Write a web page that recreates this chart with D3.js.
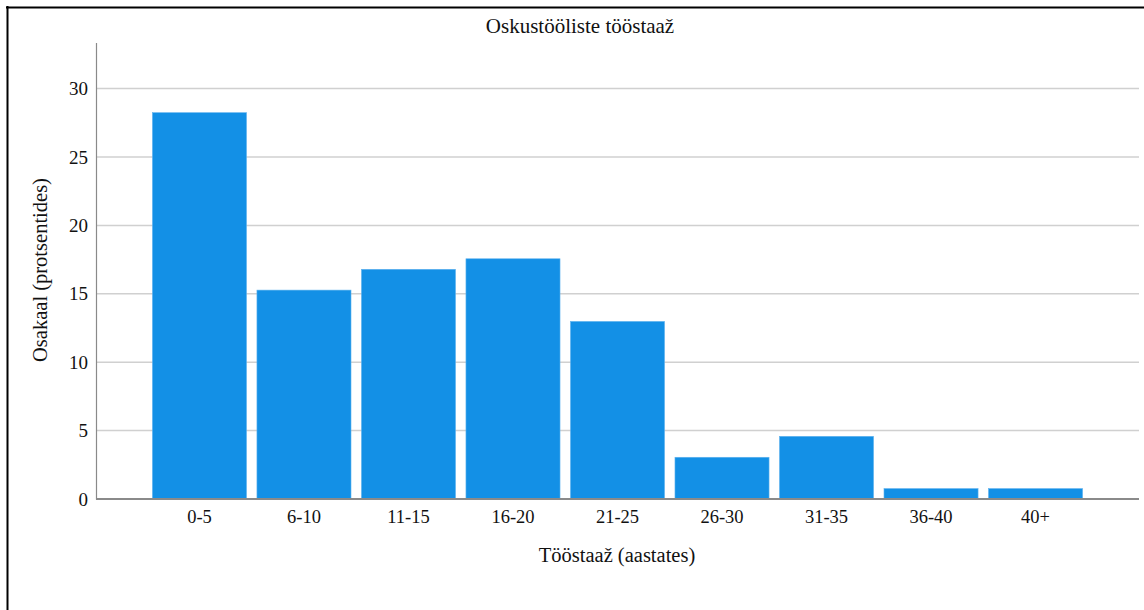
<!DOCTYPE html>
<html><head><meta charset="utf-8">
<script src="https://cdn.jsdelivr.net/npm/d3@7"></script>
<style>body{margin:0;background:#fff}svg{display:block}text{font-family:"Liberation Serif","Times New Roman",serif;fill:#111}</style>
</head><body><svg id="c" width="1144" height="610"></svg>
<script>
const categories = ["0-5","6-10","11-15","16-20","21-25","26-30","31-35","36-40","40+"];
const values = [28.24,15.27,16.79,17.56,12.98,3.05,4.58,0.76,0.76];
const yTicks = [0,5,10,15,20,25,30];
const title = "Oskustööliste tööstaaž";
const xTitle = "Tööstaaž (aastates)";
const yTitle = "Osakaal (protsentides)";

(function(){
const svg = d3.select("#c");
// frame
svg.append("line").attr("x1",7.5).attr("x2",7.5).attr("y1",6).attr("y2",610).attr("stroke","#000").attr("stroke-width",2);
svg.append("line").attr("x1",6).attr("x2",1144).attr("y1",7.5).attr("y2",7.5).attr("stroke","#000").attr("stroke-width",2);

const mL=96, mR=1139, mT=42.5, mB=499;
const x = d3.scaleBand().domain(categories).range([mL,mR]).paddingInner(0.1).paddingOuter(0.54);
const y = d3.scaleLinear().domain([0,33.37]).range([mB,mT]);

// grid
svg.append("g").selectAll("line").data(yTicks.filter(d=>d>0)).join("line")
  .attr("x1",mL).attr("x2",mR).attr("y1",d=>y(d)).attr("y2",d=>y(d))
  .attr("stroke","#d0d0d0").attr("stroke-width",1.5);

// bars
svg.append("g").selectAll("rect").data(values).join("rect")
  .attr("x",(d,i)=>x(categories[i])).attr("width",x.bandwidth())
  .attr("y",d=>y(d)).attr("height",d=>mB-y(d))
  .attr("fill","#1390e6").attr("stroke","#5fb2ee").attr("stroke-width",0.6);

// y axis
const ya = svg.append("g").attr("transform",`translate(${mL},0)`)
  .call(d3.axisLeft(y).tickValues(yTicks).tickSize(0).tickPadding(8));
ya.select(".domain").attr("stroke","#8a8a8a").attr("stroke-width",1.2);
ya.selectAll("text").attr("font-size",19).attr("font-family","Liberation Serif").attr("fill","#111");

// x axis
const xa = svg.append("g").attr("transform",`translate(0,${mB})`)
  .call(d3.axisBottom(x).tickSize(0).tickPadding(11));
xa.select(".domain").attr("d",`M${mL},0H${mR}`).attr("stroke","#8a8a8a").attr("stroke-width",2);
xa.selectAll("text").attr("font-size",18.5).attr("font-family","Liberation Serif").attr("fill","#111");

// titles
svg.append("text").attr("x",580).attr("y",33).attr("text-anchor","middle").attr("font-size",21).text(title);
svg.append("text").attr("x",617).attr("y",562).attr("text-anchor","middle").attr("font-size",20.5).text(xTitle);
svg.append("text").attr("transform","translate(47,270) rotate(-90)").attr("text-anchor","middle").attr("font-size",20.5).text(yTitle);
})();
</script></body></html>
